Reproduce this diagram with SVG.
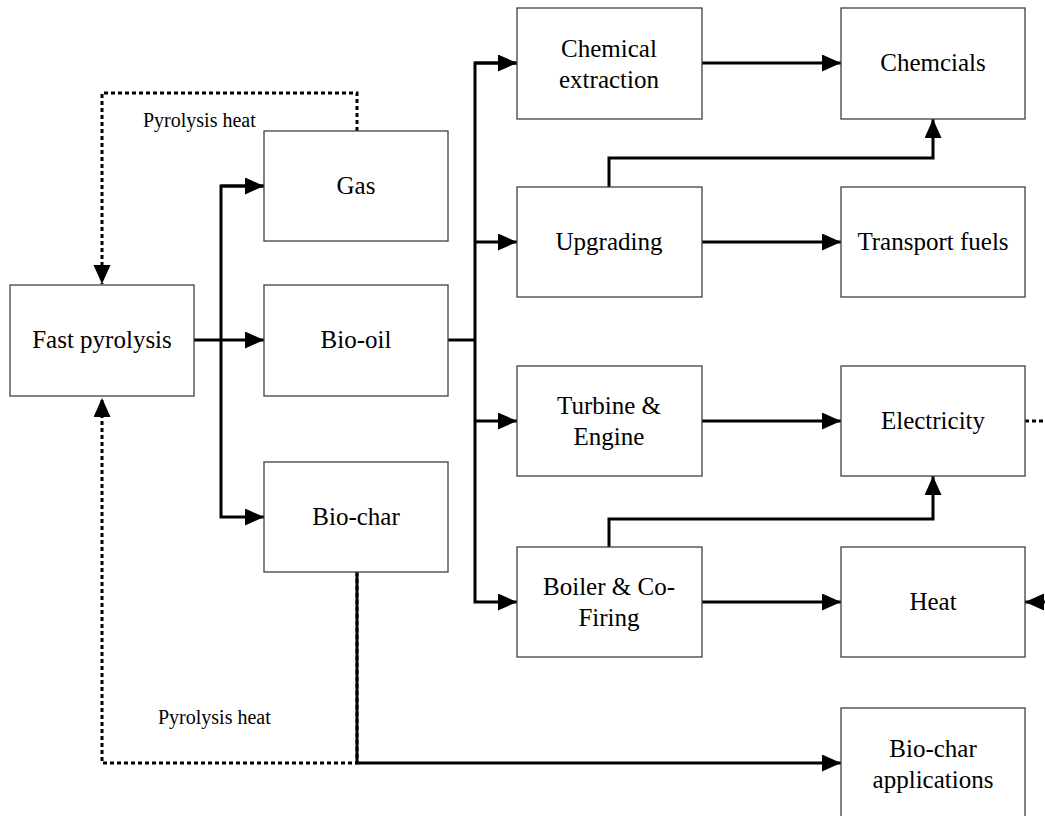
<svg xmlns="http://www.w3.org/2000/svg" width="1045" height="816" viewBox="0 0 1045 816">
<style>
.box{fill:#fff;stroke:#404040;stroke-width:1.3}
.t{font-family:"Liberation Serif","Times New Roman",serif;font-size:25px;fill:#000;text-anchor:middle}
.lbl{font-family:"Liberation Serif","Times New Roman",serif;font-size:20px;fill:#000}
.c{fill:none;stroke:#000;stroke-width:3}
.d{fill:none;stroke:#000;stroke-width:3;stroke-dasharray:4 3}
</style>
<defs>
<marker id="ah" markerUnits="userSpaceOnUse" markerWidth="20" markerHeight="18" refX="19" refY="8.5" orient="auto">
<path d="M0,0 L19,8.5 L0,17 Z" fill="#000"/>
</marker>
</defs>
<rect width="1045" height="816" fill="#fff"/>
<g id="connectors">
<path class="d" d="M357,572 V763 H102 V398" marker-end="url(#ah)"/>
<path class="d" d="M357,131 V93 H102 V284" marker-end="url(#ah)"/>
<path class="d" d="M1025,421 H1045"/>
<path class="c" d="M194,340 H264" marker-end="url(#ah)"/>
<path class="c" d="M264,186 H221 V517 H264" marker-end="url(#ah)"/>
<path class="c" d="M221,186 H264" marker-end="url(#ah)"/>
<path class="c" d="M448,340 H475"/>
<path class="c" d="M517,63 H475 V602 H517" marker-end="url(#ah)"/>
<path class="c" d="M475,63 H517" marker-end="url(#ah)"/>
<path class="c" d="M475,242 H517" marker-end="url(#ah)"/>
<path class="c" d="M475,421 H517" marker-end="url(#ah)"/>
<path class="c" d="M702,63 H841" marker-end="url(#ah)"/>
<path class="c" d="M702,242 H841" marker-end="url(#ah)"/>
<path class="c" d="M702,421 H841" marker-end="url(#ah)"/>
<path class="c" d="M702,602 H841" marker-end="url(#ah)"/>
<path class="c" d="M609,187 V158 H933 V119" marker-end="url(#ah)"/>
<path class="c" d="M609,547 V519 H933 V476" marker-end="url(#ah)"/>
<path class="c" d="M1060,602 H1025" marker-end="url(#ah)"/>
<path class="c" d="M357,572 V763 H841" marker-end="url(#ah)"/>
<text class="lbl" x="143" y="127">Pyrolysis heat</text>
<text class="lbl" x="158" y="724">Pyrolysis heat</text>
</g>
<g id="fast-pyrolysis"><rect class="box" x="10" y="285" width="184" height="111"/><text class="t" x="102" y="348">Fast pyrolysis</text></g>
<g id="gas"><rect class="box" x="264" y="131" width="184" height="110"/><text class="t" x="356" y="194">Gas</text></g>
<g id="bio-oil"><rect class="box" x="264" y="285" width="184" height="111"/><text class="t" x="356" y="348">Bio-oil</text></g>
<g id="bio-char"><rect class="box" x="264" y="462" width="184" height="110"/><text class="t" x="356" y="525">Bio-char</text></g>
<g id="chemical-extraction"><rect class="box" x="517" y="8" width="185" height="111"/><text class="t" x="609" y="57">Chemical</text><text class="t" x="609" y="88">extraction</text></g>
<g id="upgrading"><rect class="box" x="517" y="187" width="185" height="110"/><text class="t" x="609" y="250">Upgrading</text></g>
<g id="turbine-engine"><rect class="box" x="517" y="366" width="185" height="110"/><text class="t" x="609" y="414">Turbine &amp;</text><text class="t" x="609" y="445">Engine</text></g>
<g id="boiler"><rect class="box" x="517" y="547" width="185" height="110"/><text class="t" x="609" y="595">Boiler &amp; Co-</text><text class="t" x="609" y="626">Firing</text></g>
<g id="chemcials"><rect class="box" x="841" y="8" width="184" height="111"/><text class="t" x="933" y="71">Chemcials</text></g>
<g id="transport-fuels"><rect class="box" x="841" y="187" width="184" height="110"/><text class="t" x="933" y="250">Transport fuels</text></g>
<g id="electricity"><rect class="box" x="841" y="366" width="184" height="110"/><text class="t" x="933" y="429">Electricity</text></g>
<g id="heat"><rect class="box" x="841" y="547" width="184" height="110"/><text class="t" x="933" y="610">Heat</text></g>
<g id="bio-char-applications"><rect class="box" x="841" y="708" width="184" height="110"/><text class="t" x="933" y="757">Bio-char</text><text class="t" x="933" y="788">applications</text></g>
</svg>
